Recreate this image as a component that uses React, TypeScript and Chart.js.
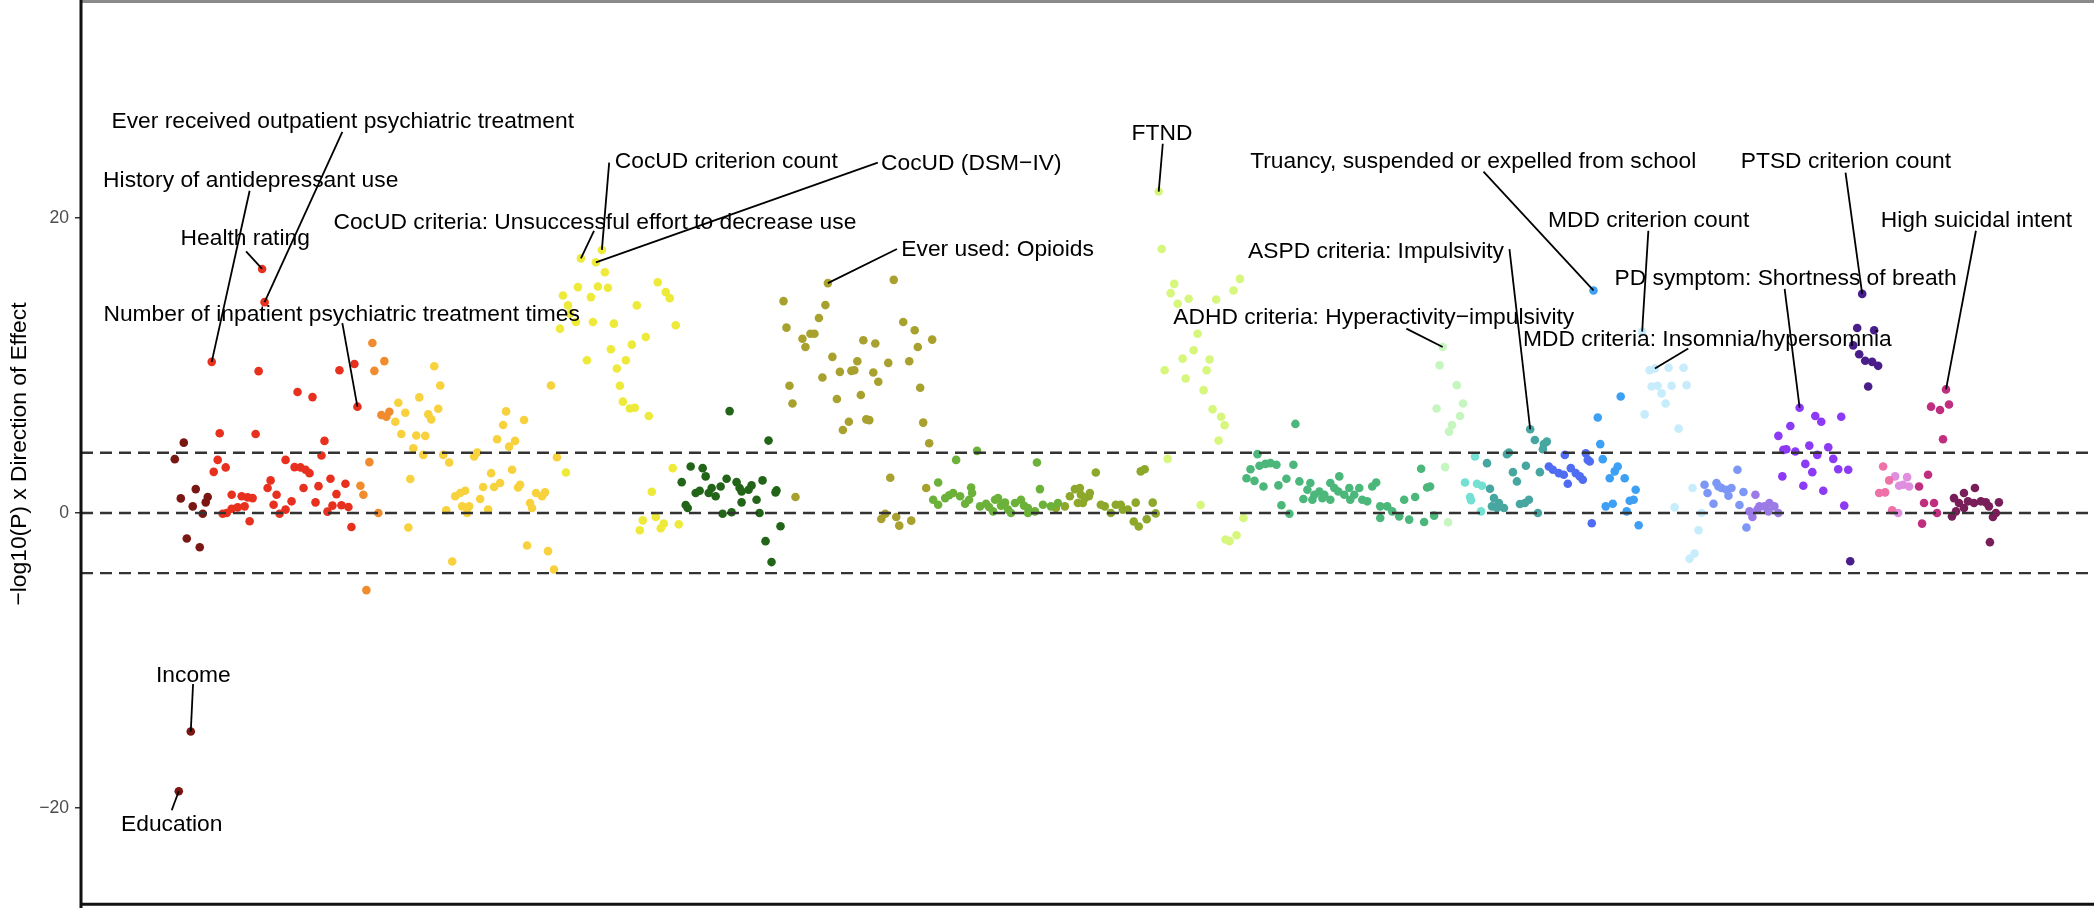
import React, { useEffect, useRef } from 'react';
import { Chart, registerables } from 'chart.js';

Chart.register(...registerables);

const FONT = '"Liberation Sans", Arial, Helvetica, sans-serif';

const yTicks = [-20, 0, 20];
const thresholds = [-4.08, 0, 4.08];
const yTitle = '\u2212log10(P) x Direction of Effect';

type P = [number, number];

const groupMaroon: P[] = [[103,4.77],[94,3.65],[115,1.62],[100,0.99],[112,0.45],[127,1.08],[125,0.72],[122,-0.05],[106,-1.73],[119,-2.32],[110,-14.82],[98,-18.87]];
const groupRed: P[] = [[131,10.25],[178,9.62],[259,9.68],[274,10.1],[217,8.2],[232,7.86],[277,7.21],[139,5.41],[175,5.36],[244,4.89],[241,3.9],[137,3.6],[145,3.09],[133,2.79],[205,3.6],[214,3.11],[220,3.09],[225,2.93],[229,2.7],[190,2.21],[187,1.69],[196,1.24],[223,1.69],[238,1.82],[250,2.32],[265,1.98],[256,1.28],[151,1.24],[161,1.13],[167,1.06],[172,1.01],[164,0.45],[157,0.38],[151,0.29],[146,0],[142,-0.05],[169,-0.56],[193,0.56],[199,-0.05],[205,0.23],[211,0.79],[235,0.72],[247,0.09],[252,0.5],[261,0.52],[268,0.41],[271,-0.95],[181.5,16.55],[184,14.3]];
const groupOrange: P[] = [[292,11.53],[304,10.3],[294,9.64],[301,6.64],[309,6.87],[306,6.53],[289,3.45],[280,1.85],[283,1.24],[298,0],[286,-5.23]];
const groupGold: P[] = [[354,9.95],[360,8.65],[339,7.84],[358,7.07],[348,6.69],[351,6.35],[318,7.48],[325,6.8],[315,6.19],[321,5.36],[336,5.25],[345,5.23],[333,4.39],[343,3.94],[363,3.94],[369,3.42],[330,2.3],[328,-0.99],[372,-3.29],[366,0.18],[375,1.13],[380,1.35],[385,1.51],[382,0.45],[389,0.45],[387,0],[400,0.95],[408,0.23],[403,1.76],[411,2.7],[414,1.76],[420,2.03],[432,2.93],[440,1.91],[438,1.73],[394,3.83],[397,4.1],[417,5.0],[429,4.5],[435,4.89],[423,5.97],[426,6.89],[444,6.31],[471,8.65],[477,3.78],[456,1.35],[462,1.13],[465,1.4],[450,0.68],[452,0.34],[447,-2.21],[468,-2.59],[474,-3.83]];
const groupYellow: P[] = [[501,17.27],[522,17.84],[516,17.0],[525,16.33],[498,15.32],[518,15.36],[528,15.27],[483,14.75],[511,14.64],[578,15.65],[586,14.98],[590,14.57],[488,14.08],[557,14.08],[490,13.51],[496,12.95],[513,12.95],[480,12.5],[534,12.84],[596,12.73],[566,11.94],[552,11.42],[531,11.1],[507,10.36],[546,10.36],[537,9.8],[540,8.63],[543,7.55],[550,7.09],[555,7.14],[569,6.58],[593,3.04],[572,1.44],[563,-0.5],[560,-1.17],[576,-0.27],[584,-0.72],[581,-1.04],[599,-0.77],[486,2.75]];
const groupDarkGreen: P[] = [[650,6.91],[689,4.91],[611,3.15],[623,3.04],[626,2.48],[602,2.09],[647,2.32],[657,2.09],[672,1.87],[683,2.21],[616,1.35],[620,1.51],[632,1.69],[641,1.8],[636,1.13],[660,1.69],[662,1.46],[669,1.58],[697,1.53],[696,1.4],[677,0.9],[662,0.72],[606,0.54],[608,0.34],[643,-0.05],[652,0.05],[680,0],[701,-0.9],[686,-1.91],[692,-3.33],[629,1.35]];
const groupOlive: P[] = [[748.5,15.59],[814.5,15.81],[704,14.37],[746,14.1],[739.5,13.22],[707,12.57],[824,12.95],[835.5,12.39],[731,12.16],[723,11.82],[726,11.26],[735,12.16],[784,11.71],[796,11.49],[838.6,11.26],[853,11.76],[753,10.59],[778,10.29],[809,10.18],[830,10.29],[760.5,9.57],[772,9.64],[775,9.68],[743,9.19],[794,9.53],[799,8.9],[710,8.63],[841,8.49],[757.5,7.73],[781.5,8.0],[713,7.43],[787,6.35],[790,6.3],[769.5,6.19],[763.5,5.63],[844,6.13],[850,4.73],[811,2.39],[716,1.08],[847,1.69],[802,-0.41],[806,-0.05],[817,-0.27],[820,-0.86],[832,-0.52]];
const groupGreen: P[] = [[898,4.21],[877,3.6],[958,3.42],[859,2.07],[961,1.62],[892,1.73],[854,0.9],[859,0.56],[866,1.01],[874,1.35],[881,1.13],[886,0.63],[893,1.35],[901,0.45],[907,0.63],[916,0.9],[919,1.01],[922,0.5],[929,0.23],[936,0.68],[942,0.9],[949,0],[956,0.11],[964,0.56],[972,0.45],[979,0.68],[914,0.11],[932,0],[949,0.34],[870,1.2],[890,0.9],[910,0.4],[926,0.7],[945,0.5]];
const groupOliveGreen: P[] = [[996,1.62],[1002,1.24],[991,1.13],[986,0.45],[977,0.34],[1017,2.75],[1010,1.13],[1004,0.68],[1026,0.45],[1037,0.56],[1044,0.23],[1055,-0.58],[1060,-0.92],[1057,0.7],[1062,2.82],[1066,2.97],[1074,0.7],[1077,-0.03],[1068,-0.43],[1006,1.01],[1011,1.35],[1022,0.56],[1032,0],[1042,0.56],[1049,0.23],[1001,1.69],[999,0.68]];
const groupLime: P[] = [[1080,21.8],[1083,17.9],[1095.5,15.54],[1092,14.91],[1099,14.19],[1110,14.53],[1137.6,14.48],[1155,15.09],[1161.4,15.88],[1119,12.16],[1115,11.04],[1104,10.47],[1131,10.41],[1128,9.68],[1086,9.68],[1107,9.12],[1125,8.33],[1134,7.03],[1142.5,6.53],[1146,5.95],[1140,4.91],[1089,3.67],[1122,0.54],[1165,-0.34],[1158,-1.51],[1151,-1.91],[1147,-1.8]];
const groupSeaGreen: P[] = [[1217,6.04],[1179,3.99],[1172,2.97],[1181,3.2],[1187,3.33],[1192,3.38],[1198,3.27],[1215,3.27],[1168,2.36],[1176,2.18],[1185,1.8],[1200,1.87],[1208,2.32],[1203,0.52],[1211,-0.05],[1221,2.14],[1229,1.58],[1232,2.03],[1225,0.95],[1236,1.24],[1241,1.46],[1246,1.24],[1252,2.03],[1261,2.48],[1256,1.69],[1271,1.69],[1266,1.24],[1276,1.24],[1281,1.69],[1284,0.9],[1289,0.79],[1294,1.8],[1298,2.07],[1244,1.01],[1234,0.9],[1272,0.9],[1252,0.9],[1260,1.46],[1302,0.45],[1309,0.45],[1314,0.11],[1321,-0.23],[1302,-0.34],[1326,0.9],[1337,1.08],[1331,-0.45],[1343,3.0],[1349,1.73],[1352,1.8],[1346,-0.61],[1356,-0.18]];
const groupPaleGreen: P[] = [[1364.6,11.26],[1361.5,10.02],[1378.7,8.67],[1385,7.43],[1358.5,7.09],[1382,6.58],[1374,5.97],[1371,5.52],[1367,3.11],[1370,-0.63]];
const groupAqua: P[] = [[1397,3.83],[1387,2.07],[1399,1.98],[1404,1.85],[1392,1.08],[1393,0.86],[1403,0.11]];
const groupTeal: P[] = [[1452.3,5.68],[1457,4.95],[1466,4.68],[1469,4.84],[1465,4.32],[1431,4.1],[1429,3.99],[1409,3.38],[1448,3.2],[1435,2.77],[1439,2.14],[1412,1.64],[1416,1.01],[1421,0.68],[1426,0.34],[1414,0.45],[1442,0.61],[1447,0.68],[1451,0.9],[1462,2.77],[1460,0],[1419,0.34]];
const groupBlueViolet: P[] = [[1487,3.94],[1508,4.05],[1510,3.6],[1471,3.15],[1475,2.93],[1481,2.7],[1486,2.59],[1490,1.98],[1493,3.04],[1498,2.7],[1502,2.48],[1505,2.25],[1514,-0.7],[1512,3.49]];
const groupSkyBlue: P[] = [[1515.7,15.09],[1543,7.9],[1520,6.48],[1522.5,4.67],[1525,3.65],[1540,3.15],[1537,2.82],[1547,2.36],[1532,2.36],[1558,1.58],[1556,0.9],[1552,0.83],[1535,0.63],[1528,0.45],[1549,0.11],[1561,-0.83]];
const groupPaleBlue: P[] = [[1564.5,12.3],[1577.3,9.8],[1572,9.68],[1591,9.85],[1606,9.85],[1574,8.58],[1580,8.63],[1594,8.63],[1609,8.67],[1584,8.11],[1588,7.43],[1567,6.69],[1601,5.72],[1615,1.69],[1597,0.38],[1624,0],[1621,-1.17],[1617,-2.75],[1612,-3.11]];
const groupPeriwinkle: P[] = [[1660,2.93],[1627,1.91],[1639,2.03],[1644,1.69],[1649,1.58],[1654,1.69],[1666,1.42],[1630,1.35],[1636,0.63],[1651,1.17],[1662,0.54],[1669,-0.99],[1641,1.8]];
const groupLavender: P[] = [[1678,1.24],[1682,0.45],[1687,0.45],[1692,0.68],[1697,0.45],[1691,0.11],[1701,0],[1675,-0.27],[1672,0.11],[1680,0.23]];
const groupPurple: P[] = [[1722.3,7.14],[1738,6.58],[1744,6.19],[1764,6.53],[1713,5.9],[1701,5.23],[1732,4.57],[1709,4.32],[1718,4.17],[1751,4.46],[1740,3.94],[1756,3.67],[1728,3.33],[1761,2.97],[1771,2.93],[1735,2.77],[1705,2.48],[1726,1.85],[1746,1.51],[1767,0.5],[1706,4.28]];
const groupIndigo: P[] = [[1785,14.86],[1780,12.55],[1797,12.39],[1776,11.37],[1782,10.77],[1788,10.32],[1795,10.25],[1801,9.98],[1791,8.58],[1773,-3.27]];
const groupPink: P[] = [[1806,3.15],[1812,2.21],[1802,1.35],[1808,1.4],[1815,0.18]];
const groupOrchid: P[] = [[1818,2.48],[1830,2.43],[1826,1.91],[1832,1.8],[1822,1.85],[1821,0]];
const groupMagenta: P[] = [[1869,8.38],[1854,7.21],[1863,6.98],[1872,7.36],[1866,5.0],[1851,2.59],[1842,1.8],[1847,0.68],[1857,0.68],[1860,0],[1845,-0.72]];
const groupPlum: P[] = [[1898,1.69],[1887,1.35],[1877,1.01],[1882,0.68],[1891,0.79],[1897,0.68],[1904,0.79],[1909,0.72],[1922,0.72],[1912,0.45],[1887,0.34],[1879,0.11],[1875,-0.23],[1919,0],[1916,-0.27],[1913,-1.98]];

const groups: P[][] = [groupMaroon, groupRed, groupOrange, groupGold, groupYellow, groupDarkGreen, groupOlive, groupGreen, groupOliveGreen, groupLime, groupSeaGreen, groupPaleGreen, groupAqua, groupTeal, groupBlueViolet, groupSkyBlue, groupPaleBlue, groupPeriwinkle, groupLavender, groupPurple, groupIndigo, groupPink, groupOrchid, groupMagenta, groupPlum];

const groupColors = ['#7A1712','#E8301F','#F08C2E','#F7D23D','#EDEA3A','#226418','#A8A12E','#6CB23A','#8DA82A','#D6F77C','#4CB77B','#C6F6C0','#73E0D2','#47A7A0','#4F6CF2','#3DA0F5','#C7ECFB','#7C97F5','#9C7BE6','#8C3AF5','#4A1E8A','#EE71A8','#E08EE0','#C02F7F','#781E58'];

// label text, label centre (x, y), segment start (x, y), labelled point (x, y)
const labelTexts = [
  'Ever received outpatient psychiatric treatment',
  'History of antidepressant use',
  'Health rating',
  'Number of inpatient psychiatric treatment times',
  'CocUD criterion count',
  'CocUD (DSM\u2212IV)',
  'CocUD criteria: Unsuccessful effort to decrease use',
  'Ever used: Opioids',
  'FTND',
  'Truancy, suspended or expelled from school',
  'MDD criterion count',
  'ASPD criteria: Impulsivity',
  'PD symptom: Shortness of breath',
  'ADHD criteria: Hyperactivity\u2212impulsivity',
  'MDD criteria: Insomnia/hypersomnia',
  'PTSD criterion count',
  'High suicidal intent',
  'Income',
  'Education',
];
const labelAnchors: [number, number, number, number, number, number][] = [
  [262.3, 26.53, 261.9, 25.85, 184, 14.3],
  [170.1, 22.52, 169, 21.85, 131, 10.25],
  [164.6, 18.58, 165.4, 17.74, 181.5, 16.55],
  [261.2, 13.47, 261.9, 12.88, 277, 7.21],
  [646.7, 23.83, 529.3, 23.76, 522, 17.84],
  [892.2, 23.69, 798.5, 23.76, 516, 17.0],
  [515, 19.7, 514.1, 19.14, 501, 17.27],
  [918.6, 17.84, 817.7, 17.9, 748.5, 15.59],
  [1083.3, 25.72, 1084.1, 25.04, 1080, 21.8],
  [1395.2, 23.83, 1405.5, 23.15, 1515.7, 15.09],
  [1571, 19.82, 1570.7, 19.14, 1564.5, 12.3],
  [1297.8, 17.74, 1431.5, 17.9, 1452.3, 5.68],
  [1708.2, 15.88, 1707.3, 15.2, 1722.3, 7.14],
  [1295.5, 13.24, 1328.2, 12.5, 1364.6, 11.26],
  [1629.8, 11.76, 1610.7, 11.15, 1577.3, 9.8],
  [1768.7, 23.83, 1768.3, 23.08, 1785, 14.86],
  [1899.5, 19.82, 1899, 19.14, 1869, 8.38],
  [112.6, -11.04, 112.3, -11.6, 110, -14.82],
  [90.9, -21.13, 90.9, -20.16, 98, -18.87],
];

const overlayPlugin = {
  id: 'overlay',
  afterDatasetsDraw(chart: any) {
    const { ctx, chartArea, scales } = chart;
    const xs = scales.x;
    const ys = scales.y;
    ctx.save();
    // threshold lines
    ctx.setLineDash([12, 7]);
    ctx.strokeStyle = '#333333';
    ctx.lineWidth = 2.4;
    for (const t of thresholds) {
      const py = ys.getPixelForValue(t);
      ctx.beginPath();
      ctx.moveTo(chartArea.left, py);
      ctx.lineTo(chartArea.right, py);
      ctx.stroke();
    }
    ctx.setLineDash([]);
    // leader segments
    ctx.strokeStyle = '#000000';
    ctx.lineWidth = 1.8;
    for (const a of labelAnchors) {
      ctx.beginPath();
      ctx.moveTo(xs.getPixelForValue(a[2]), ys.getPixelForValue(a[3]));
      ctx.lineTo(xs.getPixelForValue(a[4]), ys.getPixelForValue(a[5]));
      ctx.stroke();
    }
    // labels
    ctx.fillStyle = '#000000';
    ctx.font = `22.8px ${FONT}`;
    ctx.textAlign = 'center';
    ctx.textBaseline = 'middle';
    labelTexts.forEach((txt, i) => {
      const a = labelAnchors[i];
      ctx.fillText(txt, xs.getPixelForValue(a[0]), ys.getPixelForValue(a[1]));
    });
    // panel frame
    ctx.lineWidth = 3;
    ctx.strokeStyle = '#8a8a8a';
    ctx.beginPath();
    ctx.moveTo(chartArea.left, 1.5);
    ctx.lineTo(chart.width, 1.5);
    ctx.stroke();
    ctx.strokeStyle = '#111111';
    ctx.beginPath();
    ctx.moveTo(chartArea.left, 0);
    ctx.lineTo(chartArea.left, chart.height);
    ctx.moveTo(chartArea.left, chartArea.bottom + 0.5);
    ctx.lineTo(chart.width, chartArea.bottom + 0.5);
    ctx.stroke();
    ctx.restore();
  },
};

export default function App() {
  const canvasRef = useRef<HTMLCanvasElement | null>(null);

  useEffect(() => {
    if (!canvasRef.current) return;
    const chart = new Chart(canvasRef.current, {
      type: 'scatter',
      data: {
        datasets: groups.map((g, i) => ({
          label: `group ${i + 1}`,
          data: g.map(([x, y]) => ({ x, y })),
          backgroundColor: groupColors[i],
          borderColor: groupColors[i],
          borderWidth: 0,
          pointRadius: 4.3,
          pointHoverRadius: 4.3,
        })),
      },
      options: {
        animation: false,
        responsive: true,
        maintainAspectRatio: false,
        layout: { padding: { left: 0, right: 0, top: 3, bottom: 3 } },
        plugins: { legend: { display: false }, tooltip: { enabled: false } },
        scales: {
          x: { type: 'linear', display: false, min: 0, max: 2013 },
          y: {
            type: 'linear',
            min: -26.5,
            max: 34.5,
            afterBuildTicks: (s: any) => {
              s.ticks = yTicks.map((v) => ({ value: v }));
            },
            afterFit: (s: any) => {
              s.width = 81;
              s.paddingTop = 0;
              s.paddingBottom = 0;
            },
            grid: { drawOnChartArea: false, drawTicks: true, tickLength: 6, color: '#333333', lineWidth: 1.5 },
            border: { display: false },
            ticks: {
              color: '#4D4D4D',
              padding: 6,
              font: { family: FONT, size: 17.6 },
              callback: (v: any) => (Number(v) < 0 ? '\u2212' + Math.abs(Number(v)) : String(v)),
            },
            title: {
              display: true,
              text: yTitle,
              color: '#000000',
              font: { family: FONT, size: 22.8 },
              padding: { top: 6, bottom: 0 },
            },
          },
        },
      },
      plugins: [overlayPlugin],
    });
    return () => chart.destroy();
  }, []);

  return (
    <div style={{ position: 'fixed', left: 0, top: 0, width: 2094, height: 908, background: '#ffffff' }}>
      <canvas ref={canvasRef} />
    </div>
  );
}
